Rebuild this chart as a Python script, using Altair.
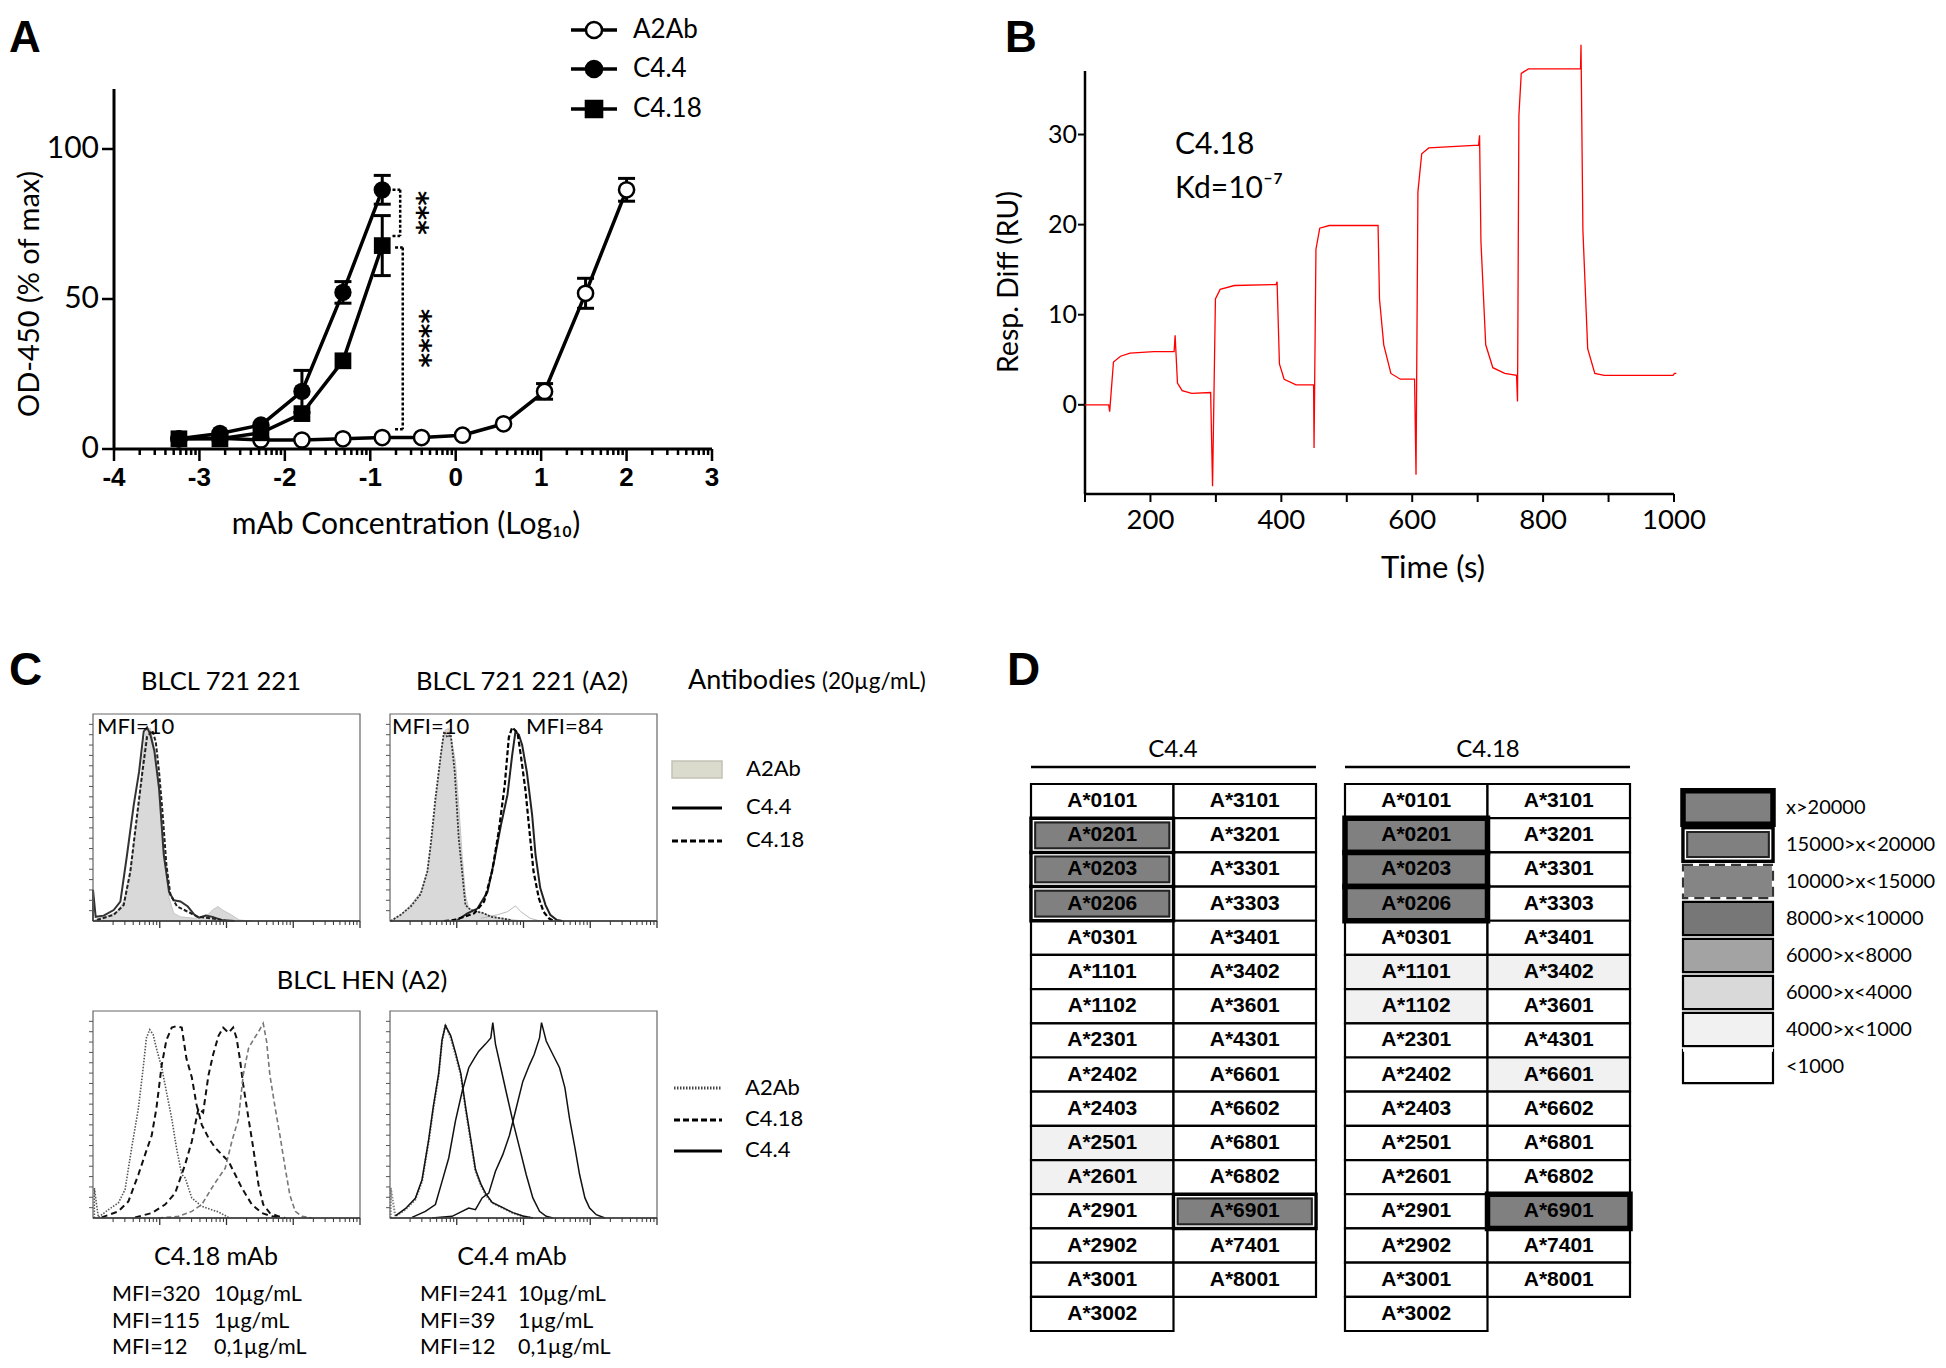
import altair as alt
import numpy as np
import pandas as pd

OX = OY = 8  # page margin

# ======================= DATA =======================
# ---- Panel A : ELISA titration ----
a_series = ["A2Ab", "C4.4", "C4.18"]
a2ab_logc = [-3.24, -2.76, -2.28, -1.80, -1.32, -0.86, -0.40, 0.08, 0.56, 1.04, 1.52, 2.00]
a2ab_od = [3.4, 3.6, 3.0, 3.0, 3.4, 3.8, 3.8, 4.6, 8.4, 19.2, 51.9, 86.4]
a2ab_sd = [0, 0, 0, 0, 0, 0, 0, 0, 0, 2.6, 5.0, 3.8]
c44_logc = [-3.24, -2.76, -2.28, -1.80, -1.32, -0.86]
c44_od = [3.4, 5.2, 8.0, 19.2, 52.2, 86.4]
c44_sd = [0, 0, 0, 7.0, 3.6, 4.8]
c418_logc = [-3.24, -2.76, -2.28, -1.80, -1.32, -0.86]
c418_od = [3.4, 3.4, 5.4, 11.8, 29.4, 67.8]
c418_sd = [0, 0, 0, 0, 0, 10.0]
sig_x = [-0.65, -0.62]
sig_top = [86.4, 67.2]
sig_bottom = [71.0, 6.6]
sig_stars = ["***", "****"]
a_xticks = [-4, -3, -2, -1, 0, 1, 2, 3]
a_yticks = [0, 50, 100]

# ---- Panel B : SPR sensorgram ----
spr_time = [100, 136.2, 137.7, 143.5, 154.3, 168.8, 205.1, 236.2, 237.7, 241.3, 248.5, 263.0, 292.0,
            294.9, 299.3, 306.5, 328.3, 392.0, 393.5, 397.1, 404.3, 422.5, 449.3, 450.0, 452.9, 458.7,
            473.2, 547.8, 550.0, 556.5, 567.4, 581.9, 603.6, 605.8, 608.7, 614.5, 625.3, 701.4, 702.9,
            705.0, 712.3, 723.2, 741.3, 759.4, 760.9, 763.0, 766.6, 777.5, 857.2, 857.9, 860.8, 868.1,
            879.0, 893.4, 998.5, 1000.7, 1003.6]
spr_resp = [0, 0, -0.76, 4.75, 5.39, 5.73, 5.90, 5.90, 7.72, 2.42, 1.57, 1.27, 1.36,
            -9.04, 11.75, 12.81, 13.24, 13.36, 13.66, 4.54, 2.84, 2.21, 2.21, -4.79, 17.27, 19.6,
            19.9, 19.9, 11.75, 6.66, 3.48, 2.84, 2.84, -7.76, 23.63, 27.87, 28.51, 28.81, 29.91,
            18.12, 6.66, 4.12, 3.48, 3.27, 0.38, 32.12, 36.78, 37.29, 37.29, 39.97, 19.39, 6.24,
            3.48, 3.27, 3.27, 3.48, 3.48]
b_xticks = [100, 200, 300, 400, 500, 600, 700, 800, 900, 1000]
b_xlabels = [200, 400, 600, 800, 1000]
b_yticks = [0, 10, 20, 30]

# ---- Panel C : flow cytometry histograms (x = log decade, y = % of max) ----
tl_a2ab_x = [0.00, 0.06, 0.26, 0.36, 0.46, 0.54, 0.61, 0.69, 0.75, 0.80, 0.86, 0.91, 0.96, 1.02, 1.09,
             1.14, 1.21, 1.31, 1.52, 1.72, 1.79, 1.87, 1.94, 2.07, 2.19, 2.37]
tl_a2ab_y = [0, 1, 3, 4.5, 9.4, 20.6, 36.8, 56, 80, 92.4, 93, 85, 72, 48, 24, 11, 3.7, 2, 1.3, 3, 5.3,
             7, 5.3, 3, 0.5, 0]
tl_c44_x = [0.00, 0.00, 0.04, 0.16, 0.31, 0.41, 0.51, 0.61, 0.69, 0.76, 0.81, 0.86, 0.92, 0.99, 1.06,
            1.14, 1.21, 1.31, 1.42, 1.52, 1.59, 1.69, 1.79, 1.92, 2.12]
tl_c44_y = [0, 15, 2, 2.6, 5.3, 9.4, 32, 56, 72, 91.6, 93.5, 90, 82, 64, 32, 14, 10, 9.4, 7, 3, 1.6,
            2.6, 2, 0.5, 0]
tl_c418_x = [0.06, 0.31, 0.46, 0.56, 0.66, 0.74, 0.81, 0.89, 0.94, 0.99, 1.04, 1.10, 1.16, 1.26, 1.42,
             1.57, 1.77, 1.97]
tl_c418_y = [0.5, 3, 7.7, 24, 51, 72, 89, 92, 86.6, 72, 53, 27, 12.6, 7, 4.5, 2, 1.3, 0.3]

tr_a2ab_x = [0.01, 0.16, 0.31, 0.46, 0.56, 0.63, 0.71, 0.78, 0.83, 0.88, 0.93, 0.98, 1.03, 1.08, 1.13,
             1.18, 1.31, 1.46, 1.66, 1.86, 2.00]
tr_a2ab_y = [0, 3, 7.7, 14, 24, 40, 64, 85, 92.4, 93, 86.6, 77, 56, 32, 12.6, 6, 4.5, 3, 1.3, 0.5, 0]
tr_iso_x = [1.36, 1.61, 1.76, 1.88, 1.96, 2.10, 2.25]
tr_iso_y = [1.3, 3, 4.5, 7.3, 4.5, 1.3, 0]
tr_dot_x = [0.01, 0.16, 0.31, 0.46, 0.56, 0.61, 0.68, 0.76, 0.81, 0.86, 0.91, 0.97, 1.03, 1.08, 1.13,
            1.21, 1.31, 1.41, 1.51, 1.66, 1.81]
tr_dot_y = [0, 3, 7, 13, 24, 37, 59, 80, 91.6, 88.7, 90, 72, 40, 24, 7.7, 5.3, 4.5, 3.7, 2, 1.3, 0.5]
tr_c44_x = [1.01, 1.16, 1.31, 1.46, 1.56, 1.66, 1.76, 1.83, 1.88, 1.93, 1.98, 2.05, 2.13, 2.18, 2.25,
            2.33, 2.40, 2.50, 2.58]
tr_c44_y = [0.5, 3.7, 6, 14, 29, 46, 61, 80, 91.6, 90, 85, 72, 51, 32, 16, 7.7, 3, 0.5, 0]
tr_c418_x = [0.81, 0.96, 1.11, 1.26, 1.41, 1.53, 1.63, 1.72, 1.78, 1.83, 1.91, 1.96, 2.03, 2.10, 2.15,
             2.23, 2.30, 2.38, 2.45]
tr_c418_y = [0, 0.5, 2, 3.7, 9.4, 24, 43.5, 66, 88.7, 93.5, 91, 80, 63, 40, 24, 11, 4.5, 1.3, 0]

bl_a2ab_x = [0.02, 0.02, 0.08, 0.23, 0.38, 0.48, 0.58, 0.68, 0.75, 0.80, 0.85, 0.90, 0.95, 1.03, 1.10,
             1.18, 1.25, 1.33, 1.38, 1.48, 1.63, 1.88, 2.03]
bl_a2ab_y = [0, 14.5, 0.3, 4, 7.3, 13.7, 34, 53, 72, 87, 91, 88.7, 82, 72.6, 61, 48, 34, 21, 19.4, 9.7,
             5.6, 2.9, 0.3]
bl_c01_x = [0.13, 0.38, 0.53, 0.68, 0.78, 0.88, 0.95, 1.03, 1.10, 1.18, 1.25, 1.33, 1.40, 1.48, 1.55,
            1.63, 1.73, 1.83, 1.93, 2.03, 2.13, 2.23, 2.38, 2.53, 2.68, 2.83]
bl_c01_y = [0.3, 3.2, 8, 21, 30.6, 40, 53, 74, 86, 92, 92.7, 92, 77, 68, 55, 45, 38.7, 34, 30.6, 27.4,
            21, 14.5, 6.5, 2.4, 0.8, 0]
bl_c1_x = [0.63, 0.88, 1.08, 1.23, 1.38, 1.48, 1.58, 1.65, 1.73, 1.80, 1.88, 1.95, 2.03, 2.10, 2.15,
           2.20, 2.25, 2.33, 2.40, 2.48, 2.55, 2.65, 2.78, 2.88]
bl_c1_y = [0.3, 2.4, 6.5, 12, 25.8, 37, 53, 51, 69, 79, 88, 92, 89.5, 92, 87, 77, 64.5, 48, 34, 16, 6.5,
           2.4, 0.8, 0]
bl_c10_x = [0.98, 1.28, 1.48, 1.63, 1.78, 1.88, 1.98, 2.08, 2.18, 2.25, 2.33, 2.40, 2.48, 2.55, 2.60,
            2.65, 2.73, 2.80, 2.88, 2.95, 3.03, 3.13, 3.28]
bl_c10_y = [0, 0.8, 3.2, 6.5, 14.5, 19.4, 24, 37, 48, 69, 82, 86, 90, 94, 85.5, 69, 53, 40, 24, 11, 3.2,
            0.8, 0]

br_a2ab_x = [0.01, 0.01, 0.08, 0.23, 0.38, 0.48, 0.58, 0.65, 0.73, 0.78, 0.83, 0.91, 0.98, 1.06, 1.13,
             1.21, 1.28, 1.36, 1.43, 1.53, 1.69, 1.84, 1.99, 2.14]
br_a2ab_y = [0, 14.5, 0.8, 4, 8.9, 17.7, 37, 53, 69, 85.5, 93.5, 87, 79, 69, 53, 37, 22.6, 16, 11.3, 7.3,
             4.8, 2.4, 0.8, 0]
br_c01_x = [0.08, 0.23, 0.38, 0.48, 0.58, 0.65, 0.73, 0.78, 0.83, 0.91, 0.98, 1.06, 1.13, 1.21, 1.28,
            1.36, 1.43, 1.53, 1.69, 1.84, 1.99, 2.14]
br_c01_y = [1, 4.5, 9.5, 18.5, 38, 54, 70, 86, 93, 88, 80, 70, 54, 38, 23.5, 16.5, 12, 7.5, 5, 2.6, 1, 0]
br_c1_x = [0.33, 0.53, 0.68, 0.78, 0.88, 0.98, 1.08, 1.18, 1.26, 1.33, 1.43, 1.51, 1.54, 1.58, 1.66,
           1.74, 1.84, 1.94, 2.04, 2.14, 2.24, 2.34, 2.44]
br_c1_y = [0.3, 3.2, 6.5, 17.7, 29, 46.8, 61, 72.6, 77, 80.6, 84, 87, 94.4, 84, 72.6, 61, 46.8, 34, 21,
           9.7, 3.2, 0.8, 0]
br_c10_x = [0.63, 0.93, 1.18, 1.28, 1.38, 1.48, 1.58, 1.69, 1.79, 1.89, 1.99, 2.09, 2.16, 2.24, 2.27,
            2.34, 2.44, 2.54, 2.62, 2.69, 2.77, 2.84, 2.92, 2.99, 3.09, 3.22]
br_c10_y = [0, 0.8, 4.8, 4, 9.7, 12, 22.6, 30.6, 40, 53, 66, 74, 79, 87, 94.4, 85.5, 79, 72.6, 63, 48,
            34, 21, 9.7, 4.8, 1.6, 0]

mfi_c418 = ["MFI=320", "MFI=115", "MFI=12"]
mfi_c44 = ["MFI=241", "MFI=39", "MFI=12"]
mfi_conc = ["10µg/mL", "1µg/mL", "0,1µg/mL"]

# ---- Panel D : HLA-A allele binding ----
hla_col1 = ["A*0101", "A*0201", "A*0203", "A*0206", "A*0301", "A*1101", "A*1102", "A*2301",
            "A*2402", "A*2403", "A*2501", "A*2601", "A*2901", "A*2902", "A*3001", "A*3002"]
hla_col2 = ["A*3101", "A*3201", "A*3301", "A*3303", "A*3401", "A*3402", "A*3601", "A*4301",
            "A*6601", "A*6602", "A*6801", "A*6802", "A*6901", "A*7401", "A*8001"]
mfi_levels = ["x>20000", "15000>x<20000", "10000>x<15000", "8000>x<10000",
              "6000>x<8000", "6000>x<4000", "4000>x<1000", "<1000"]
c44_binding = {"A*0201": "15000>x<20000", "A*0203": "15000>x<20000", "A*0206": "15000>x<20000",
               "A*6901": "15000>x<20000", "A*2501": "4000>x<1000", "A*2601": "4000>x<1000"}
c418_binding = {"A*0201": "x>20000", "A*0203": "x>20000", "A*0206": "x>20000", "A*6901": "x>20000",
                "A*1101": "4000>x<1000", "A*1102": "4000>x<1000", "A*3402": "4000>x<1000",
                "A*6601": "4000>x<1000"}

# ======================= STYLE / LAYOUT =======================
level_fill = ["#808080", "#808080", "#858585", "#777777", "#a3a3a3", "#d9d9d9", "#f1f1f1", "#ffffff"]
FONT = "Lato"
ARIAL = "Liberation Sans"
legA_rows_y = [30, 69, 109]       # page y of the three legend rows of panel A
legA_shapes = ["circle", "circle", "square"]
legA_fills = ["white", "black", "black"]


def sc(dom, p0, p1, **kw):
    return alt.Scale(domain=dom, range=[p0 - OX, p1 - OX], nice=False, zero=False, **kw)


def note(s, x, y, size, font=FONT, weight="normal", align="left", baseline="middle", angle=0):
    return alt.Chart(pd.DataFrame({"t": [s]})).mark_text(
        font=font, fontSize=size, fontWeight=weight, align=align, baseline=baseline,
        angle=angle, color="black").encode(x=alt.value(x - OX), y=alt.value(y - OY), text="t:N")


def mkdf(xv, yv):
    return pd.DataFrame({"x": xv, "y": yv, "i": list(range(len(xv)))})


layers = []

# ======================= PANEL A =======================
xa = sc([-4, 3], 114, 712)
ya = sc([0, 120], 449, 89)


def XA(f):
    return alt.X(f, scale=xa, axis=None)


def YA(f):
    return alt.Y(f, scale=ya, axis=None)


frames = []
for name, xv, yv, sv in [("A2Ab", a2ab_logc, a2ab_od, a2ab_sd), ("C4.4", c44_logc, c44_od, c44_sd),
                         ("C4.18", c418_logc, c418_od, c418_sd)]:
    frames.append(pd.DataFrame({"series": name, "logc": xv, "od": yv, "sd": sv, "i": list(range(len(xv)))}))
dfa = pd.concat(frames, ignore_index=True)
dfe = dfa[dfa.sd > 0].copy()
dfe["lo"] = dfe.od - dfe.sd
dfe["hi"] = dfe.od + dfe.sd

a_axes = pd.DataFrame({"x0": [-4], "x1": [3], "y0": [0], "y1": [120]})
a_major = pd.DataFrame({"v": a_xticks, "lab": [str(v) for v in a_xticks], "z": 0})
a_minor = pd.DataFrame({"v": [k + np.log10(m) for k in range(-4, 3) for m in range(2, 10)], "z": 0})
a_ymaj = pd.DataFrame({"v": a_yticks, "lab": [str(v) for v in a_yticks], "z": -4})
dsig = pd.DataFrame({"x": sig_x, "top": sig_top, "bot": sig_bottom, "stars": sig_stars})
dsig["xs"] = dsig.x - 0.09
dsig["xt"] = dsig.x + 0.19
dsig["ym"] = (dsig.top + dsig.bot) / 2

panelA = alt.layer(
    alt.Chart(a_axes).mark_rule(color="black", strokeWidth=3).encode(x=XA("x0:Q"), x2="x1:Q", y=YA("y0:Q")),
    alt.Chart(a_axes).mark_rule(color="black", strokeWidth=3).encode(x=XA("x0:Q"), y=YA("y0:Q"), y2="y1:Q"),
    alt.Chart(a_major).mark_tick(orient="vertical", size=12, thickness=2.5, yOffset=6, color="black",
                                 opacity=1).encode(x=XA("v:Q"), y=YA("z:Q")),
    alt.Chart(a_minor).mark_tick(orient="vertical", size=6, thickness=2.5, yOffset=3, color="black",
                                 opacity=1).encode(x=XA("v:Q"), y=YA("z:Q")),
    alt.Chart(a_ymaj).mark_tick(orient="horizontal", size=12, thickness=2.5, xOffset=-6, color="black",
                                opacity=1).encode(x=XA("z:Q"), y=YA("v:Q")),
    alt.Chart(a_major).mark_text(font=ARIAL, fontWeight="bold", fontSize=26, baseline="middle").encode(
        x=XA("v:Q"), y=alt.value(478 - OY), text="lab:N"),
    alt.Chart(a_ymaj).mark_text(font=FONT, fontSize=30, align="right", baseline="middle").encode(
        x=alt.value(99 - OX), y=YA("v:Q"), text="lab:N"),
    alt.Chart(dfa).mark_line(color="black", strokeWidth=3.5).encode(
        x=XA("logc:Q"), y=YA("od:Q"), detail="series:N", order="i:Q"),
    alt.Chart(dfe).mark_rule(color="black", strokeWidth=3).encode(x=XA("logc:Q"), y=YA("lo:Q"), y2="hi:Q"),
    alt.Chart(dfe).mark_tick(orient="horizontal", size=17, thickness=3, color="black", opacity=1).encode(
        x=XA("logc:Q"), y=YA("hi:Q")),
    alt.Chart(dfe).mark_tick(orient="horizontal", size=17, thickness=3, color="black", opacity=1).encode(
        x=XA("logc:Q"), y=YA("lo:Q")),
    alt.Chart(dfa[dfa.series == "A2Ab"]).mark_point(shape="circle", filled=True, fill="white", stroke="black",
                                                     strokeWidth=2.5, size=230, opacity=1).encode(
        x=XA("logc:Q"), y=YA("od:Q")),
    alt.Chart(dfa[dfa.series == "C4.4"]).mark_point(shape="circle", filled=True, color="black", size=300,
                                                     opacity=1).encode(x=XA("logc:Q"), y=YA("od:Q")),
    alt.Chart(dfa[dfa.series == "C4.18"]).mark_point(shape="square", filled=True, color="black", size=280,
                                                      opacity=1).encode(x=XA("logc:Q"), y=YA("od:Q")),
    alt.Chart(dsig).mark_rule(color="black", strokeWidth=2.5, strokeDash=[3, 2]).encode(
        x=XA("x:Q"), y=YA("top:Q"), y2="bot:Q"),
    alt.Chart(dsig).mark_rule(color="black", strokeWidth=2.5, strokeDash=[3, 2]).encode(
        x=XA("xs:Q"), x2="x:Q", y=YA("top:Q")),
    alt.Chart(dsig).mark_rule(color="black", strokeWidth=2.5, strokeDash=[3, 2]).encode(
        x=XA("xs:Q"), x2="x:Q", y=YA("bot:Q")),
    alt.Chart(dsig).mark_text(font="DejaVu Sans", fontWeight="bold", fontSize=28, angle=90,
                              baseline="middle").encode(x=XA("xt:Q"), y=YA("ym:Q"), text="stars:N"),
)
layers.append(panelA)

# legend of panel A (one entry per series)
for name, ry, shp, fil in zip(a_series, legA_rows_y, legA_shapes, legA_fills):
    d = pd.DataFrame({"series": [name]})
    layers += [
        alt.Chart(d).mark_rule(color="black", strokeWidth=3.5).encode(
            x=alt.value(571 - OX), x2=alt.value(617 - OX), y=alt.value(ry - OY)),
        alt.Chart(d).mark_point(shape=shp, filled=True, fill=fil, stroke="black", strokeWidth=2.5,
                                size=260, opacity=1).encode(x=alt.value(594 - OX), y=alt.value(ry - OY)),
        alt.Chart(d).mark_text(font=FONT, fontSize=26, align="left", baseline="middle").encode(
            x=alt.value(633 - OX), y=alt.value(ry - OY), text="series:N"),
    ]
layers += [
    note("A", 9, 52, 44, font=ARIAL, weight="bold", baseline="alphabetic"),
    note("OD-450 (% of max)", 30, 294, 29, align="center", angle=270),
    note("mAb Concentration (Log₁₀)", 406, 525, 30, align="center"),
]

# ======================= PANEL B =======================
xb = sc([100, 1000], 1085, 1674)
yb = sc([-9.9, 37.05], 494, 71)


def XB(f):
    return alt.X(f, scale=xb, axis=None)


def YB(f):
    return alt.Y(f, scale=yb, axis=None)


dspr = pd.DataFrame({"t": spr_time, "r": spr_resp, "i": list(range(len(spr_time)))})
b_axes = pd.DataFrame({"x0": [100], "x1": [1000], "y0": [-9.9], "y1": [37.05]})
b_xt = pd.DataFrame({"v": b_xticks, "z": -9.9})
b_xl = pd.DataFrame({"v": b_xlabels, "lab": [str(v) for v in b_xlabels]})
b_yt = pd.DataFrame({"v": b_yticks, "lab": [str(v) for v in b_yticks], "z": 100})
panelB = alt.layer(
    alt.Chart(b_axes).mark_rule(color="black", strokeWidth=2.5).encode(x=XB("x0:Q"), x2="x1:Q", y=YB("y0:Q")),
    alt.Chart(b_axes).mark_rule(color="black", strokeWidth=2.5).encode(x=XB("x0:Q"), y=YB("y0:Q"), y2="y1:Q"),
    alt.Chart(b_xt).mark_tick(orient="vertical", size=8, thickness=2, yOffset=4, color="black",
                              opacity=1).encode(x=XB("v:Q"), y=YB("z:Q")),
    alt.Chart(b_yt).mark_tick(orient="horizontal", size=7, thickness=2, xOffset=-3.5, color="black",
                              opacity=1).encode(x=XB("z:Q"), y=YB("v:Q")),
    alt.Chart(b_xl).mark_text(font=FONT, fontSize=27.5, baseline="middle").encode(
        x=XB("v:Q"), y=alt.value(521 - OY), text="lab:N"),
    alt.Chart(b_yt).mark_text(font=FONT, fontSize=25, align="right", baseline="middle").encode(
        x=alt.value(1077 - OX), y=YB("v:Q"), text="lab:N"),
    alt.Chart(dspr).mark_line(color="#ff0000", strokeWidth=1.3).encode(x=XB("t:Q"), y=YB("r:Q"), order="i:Q"),
)
layers.append(panelB)
layers += [
    note("B", 1005, 52, 44, font=ARIAL, weight="bold", baseline="alphabetic"),
    note("C4.18", 1175, 145, 30),
    note("Kd=10⁻⁷", 1175, 189, 30),
    note("Resp. Diff (RU)", 1009, 282, 28.5, align="center", angle=270),
    note("Time (s)", 1433, 569, 31, align="center"),
]


# ======================= PANEL C =======================
def facs_box(left, right, top, bottom, curves):
    xs = sc([0, 4], left, right)
    ys = sc([0, 100], bottom, top)

    def X(f):
        return alt.X(f, scale=xs, axis=None)

    def Y(f):
        return alt.Y(f, scale=ys, axis=None, stack=None)

    sub = []
    for kind, xv, yv, style in curves:
        d = mkdf(xv, yv)
        if kind == "area":
            sub.append(alt.Chart(d).mark_area(**style).encode(x=X("x:Q"), y=Y("y:Q")))
        else:
            sub.append(alt.Chart(d).mark_line(**style).encode(x=X("x:Q"), y=Y("y:Q"), order="i:Q"))
    frame = pd.DataFrame({"x0": [0], "x1": [4], "y0": [0], "y1": [100]})
    major = pd.DataFrame({"v": [1, 2, 3, 4], "z": 0})
    minor = pd.DataFrame({"v": [k + np.log10(m) for k in range(4) for m in range(2, 10)], "z": 0})
    left_t = pd.DataFrame({"v": list(range(5, 100, 5)), "z": 0})
    sub += [
        alt.Chart(frame).mark_rect(filled=False, stroke="#666666", strokeWidth=1.2).encode(
            x=X("x0:Q"), x2="x1:Q", y=Y("y0:Q"), y2="y1:Q"),
        alt.Chart(frame).mark_rule(color="#333333", strokeWidth=1.6).encode(x=X("x0:Q"), x2="x1:Q", y=Y("y0:Q")),
        alt.Chart(minor).mark_tick(orient="vertical", size=4, thickness=1, yOffset=2, color="#333333",
                                   opacity=1).encode(x=X("v:Q"), y=Y("z:Q")),
        alt.Chart(major).mark_tick(orient="vertical", size=7, thickness=1.3, yOffset=3.5, color="#333333",
                                   opacity=1).encode(x=X("v:Q"), y=Y("z:Q")),
        alt.Chart(left_t).mark_tick(orient="horizontal", size=4, thickness=1, xOffset=-2, color="#555555",
                                    opacity=1).encode(x=X("z:Q"), y=Y("v:Q")),
    ]
    return alt.layer(*sub)


gray_area = {"fill": "#d9d9d9", "stroke": "#c6c6c6", "strokeWidth": 1}
layers.append(facs_box(93, 360, 714, 921, [
    ("area", tl_a2ab_x, tl_a2ab_y, gray_area),
    ("line", tl_c44_x, tl_c44_y, {"color": "#333333", "strokeWidth": 2}),
    ("line", tl_c418_x, tl_c418_y, {"color": "#222222", "strokeWidth": 2, "strokeDash": [4, 2]}),
]))
layers.append(facs_box(390, 657, 714, 921, [
    ("area", tr_a2ab_x, tr_a2ab_y, gray_area),
    ("line", tr_iso_x, tr_iso_y, {"color": "#bbbbbb", "strokeWidth": 1}),
    ("line", tr_dot_x, tr_dot_y, {"color": "#333333", "strokeWidth": 1.8, "strokeDash": [2, 1.5]}),
    ("line", tr_c44_x, tr_c44_y, {"color": "#222222", "strokeWidth": 2}),
    ("line", tr_c418_x, tr_c418_y, {"color": "#000000", "strokeWidth": 2.2, "strokeDash": [5, 2.5]}),
]))
layers.append(facs_box(93, 360, 1011, 1218, [
    ("line", bl_a2ab_x, bl_a2ab_y, {"color": "#555555", "strokeWidth": 1.6, "strokeDash": [1.5, 1.5]}),
    ("line", bl_c01_x, bl_c01_y, {"color": "#111111", "strokeWidth": 2, "strokeDash": [6, 4]}),
    ("line", bl_c1_x, bl_c1_y, {"color": "#111111", "strokeWidth": 2, "strokeDash": [6, 4]}),
    ("line", bl_c10_x, bl_c10_y, {"color": "#777777", "strokeWidth": 1.6, "strokeDash": [5, 3]}),
]))
layers.append(facs_box(390, 657, 1011, 1218, [
    ("line", br_a2ab_x, br_a2ab_y, {"color": "#888888", "strokeWidth": 2.2, "strokeDash": [1.5, 1.5]}),
    ("line", br_c01_x, br_c01_y, {"color": "#111111", "strokeWidth": 1.5}),
    ("line", br_c1_x, br_c1_y, {"color": "#111111", "strokeWidth": 1.5}),
    ("line", br_c10_x, br_c10_y, {"color": "#111111", "strokeWidth": 1.5}),
]))

# Panel C legends
leg_box = pd.DataFrame({"a": [1]})
layers += [
    alt.Chart(leg_box).mark_rect(fill="#dadacd", stroke="#c2c2b5", strokeWidth=1.5).encode(
        x=alt.value(672 - OX), x2=alt.value(722 - OX), y=alt.value(761 - OY), y2=alt.value(778 - OY)),
    alt.Chart(leg_box).mark_rule(color="black", strokeWidth=3).encode(
        x=alt.value(672 - OX), x2=alt.value(722 - OX), y=alt.value(808 - OY)),
    alt.Chart(leg_box).mark_rule(color="black", strokeWidth=3, strokeDash=[6, 3]).encode(
        x=alt.value(672 - OX), x2=alt.value(722 - OX), y=alt.value(841 - OY)),
    note("A2Ab", 746, 769, 22), note("C4.4", 746, 807, 22), note("C4.18", 746, 840, 22),
    alt.Chart(leg_box).mark_rule(color="#444444", strokeWidth=3, strokeDash=[1.5, 1.5]).encode(
        x=alt.value(674 - OX), x2=alt.value(722 - OX), y=alt.value(1088 - OY)),
    alt.Chart(leg_box).mark_rule(color="black", strokeWidth=3, strokeDash=[6, 3]).encode(
        x=alt.value(674 - OX), x2=alt.value(722 - OX), y=alt.value(1120 - OY)),
    alt.Chart(leg_box).mark_rule(color="black", strokeWidth=3).encode(
        x=alt.value(674 - OX), x2=alt.value(722 - OX), y=alt.value(1151 - OY)),
    note("A2Ab", 745, 1088, 22), note("C4.18", 745, 1119, 22), note("C4.4", 745, 1150, 22),
]
layers += [
    note("C", 9, 685, 46, font=ARIAL, weight="bold", baseline="alphabetic"),
    note("BLCL 721 221", 221, 682, 25.5, align="center"),
    note("BLCL 721 221 (A2)", 522, 682, 25.5, align="center"),
    note("Antibodies", 688, 689, 27, baseline="alphabetic"),
    note("(20µg/mL)", 822, 689, 22.5, baseline="alphabetic"),
    note("BLCL HEN (A2)", 362, 981, 25.5, align="center"),
    note("MFI=10", 97, 727, 22),
    note("MFI=10", 392, 727, 22),
    note("MFI=84", 526, 727, 22),
    note("C4.18 mAb", 216, 1257, 25, align="center"),
    note("C4.4 mAb", 512, 1257, 25, align="center"),
]
ym = alt.Scale(type="point", domain=[0, 1, 2], range=[1295 - OY, 1348 - OY], padding=0)
dm = pd.DataFrame({"k": [0, 1, 2], "m418": mfi_c418, "m44": mfi_c44, "conc": mfi_conc})
layers.append(alt.layer(
    alt.Chart(dm).mark_text(font=FONT, fontSize=21.5, align="left", baseline="middle").encode(
        x=alt.value(112 - OX), y=alt.Y("k:O", scale=ym, axis=None), text="m418:N"),
    alt.Chart(dm).mark_text(font=FONT, fontSize=21.5, align="left", baseline="middle").encode(
        x=alt.value(214 - OX), y=alt.Y("k:O", scale=ym, axis=None), text="conc:N"),
    alt.Chart(dm).mark_text(font=FONT, fontSize=21.5, align="left", baseline="middle").encode(
        x=alt.value(420 - OX), y=alt.Y("k:O", scale=ym, axis=None), text="m44:N"),
    alt.Chart(dm).mark_text(font=FONT, fontSize=21.5, align="left", baseline="middle").encode(
        x=alt.value(518 - OX), y=alt.Y("k:O", scale=ym, axis=None), text="conc:N"),
))


# ======================= PANEL D =======================
def rect_layer(d, xs, ys, kx, ky, inset=0.0, **mk):
    d = d.copy()
    d["a0"] = d.x0 + inset * kx
    d["a1"] = d.x1 - inset * kx
    d["b0"] = d.y0 + inset * ky
    d["b1"] = d.y1 - inset * ky
    return alt.Chart(d).mark_rect(**mk).encode(
        x=alt.X("a0:Q", scale=xs, axis=None), x2="a1:Q", y=alt.Y("b0:Q", scale=ys, axis=None), y2="b1:Q")


def styled_cells(d, xs, ys, kx, ky):
    out = []
    fmap = dict(zip(mfi_levels, level_fill))
    d = d.copy()
    d["fillc"] = d.level.map(fmap)
    plain = d[~d.level.isin(mfi_levels[:3])]
    if len(plain):
        out.append(rect_layer(plain, xs, ys, kx, ky, stroke="black", strokeWidth=2.2).encode(
            fill=alt.Fill("fillc:N", scale=None)))
    dbl = d[d.level == mfi_levels[1]]
    if len(dbl):
        out.append(rect_layer(dbl, xs, ys, kx, ky, fill="#808080", stroke="black", strokeWidth=3.5))
        out.append(rect_layer(dbl, xs, ys, kx, ky, inset=2.5, filled=False, stroke="white", strokeWidth=1.5))
        out.append(rect_layer(dbl, xs, ys, kx, ky, inset=4.2, filled=False, stroke="#222222", strokeWidth=2))
    dash = d[d.level == mfi_levels[2]]
    if len(dash):
        out.append(rect_layer(dash, xs, ys, kx, ky, fill="#858585", stroke="white", strokeWidth=2.2))
        out.append(rect_layer(dash, xs, ys, kx, ky, filled=False, stroke="#333333", strokeWidth=2.2,
                              strokeDash=[10, 6]))
    thick = d[d.level == mfi_levels[0]]
    if len(thick):
        out.append(rect_layer(thick, xs, ys, kx, ky, fill="#808080", stroke="black", strokeWidth=5.5))
    return out


def hla_table(binding, left, right, top, bottom):
    recs = []
    for c, col in enumerate([hla_col1, hla_col2]):
        for r, a in enumerate(col):
            recs.append({"allele": a, "level": binding.get(a, "<1000"), "x0": c, "x1": c + 1,
                         "y0": r, "y1": r + 1, "xc": c + 0.5, "yc": r + 0.5})
    df = pd.DataFrame(recs)
    xs = sc([0, 2], left, right)
    ys = sc([0, 16], top, bottom)
    kx = 2.0 / (right - left)
    ky = 16.0 / (bottom - top)
    sub = styled_cells(df, xs, ys, kx, ky)
    sub.append(alt.Chart(df).mark_text(font=ARIAL, fontWeight="bold", fontSize=21, baseline="middle").encode(
        x=alt.X("xc:Q", scale=xs, axis=None), y=alt.Y("yc:Q", scale=ys, axis=None), text="allele:N"))
    return alt.layer(*sub)


layers.append(hla_table(c44_binding, 1031, 1316, 784, 1331))
layers.append(hla_table(c418_binding, 1345, 1630, 784, 1331))

one = pd.DataFrame({"a": [1]})
layers += [
    note("D", 1007, 685, 46, font=ARIAL, weight="bold", baseline="alphabetic"),
    note("C4.4", 1173, 750, 24, align="center"),
    note("C4.18", 1488, 750, 24, align="center"),
    alt.Chart(one).mark_rule(color="black", strokeWidth=2.5).encode(
        x=alt.value(1031 - OX), x2=alt.value(1316 - OX), y=alt.value(767 - OY)),
    alt.Chart(one).mark_rule(color="black", strokeWidth=2.5).encode(
        x=alt.value(1345 - OX), x2=alt.value(1630 - OX), y=alt.value(767 - OY)),
]

# legend for panel D
dl = pd.DataFrame({"level": mfi_levels, "k": list(range(8))})
dl["x0"] = 0.0
dl["x1"] = 1.0
dl["y0"] = dl.k + 0.05
dl["y1"] = dl.k + 0.95
dl["yc"] = dl.k + 0.5
lxs = sc([0, 1], 1683, 1773)
lys = sc([0, 8], 789, 1085)
lkx = 1.0 / 90
lky = 8.0 / 296
leg_layers = styled_cells(dl, lxs, lys, lkx, lky)
last = dl[dl.level == "<1000"]
leg_layers.append(alt.Chart(last).mark_rule(color="white", strokeWidth=4).encode(
    x=alt.X("x0:Q", scale=lxs, axis=None), x2="x1:Q", y=alt.Y("y0:Q", scale=lys, axis=None)))
leg_layers.append(alt.Chart(dl).mark_text(font=FONT, fontSize=20, align="left", baseline="middle").encode(
    x=alt.value(1786 - OX), y=alt.Y("yc:Q", scale=lys, axis=None), text="level:N"))
layers.append(alt.layer(*leg_layers))

# ======================= ASSEMBLE =======================
chart = alt.layer(*layers).resolve_scale(
    x="independent", y="independent", fill="independent", shape="independent", color="independent"
).properties(
    width=1930, height=1352, padding=0, background="white",
    autosize=alt.AutoSizeParams(type="none"),
).configure_view(stroke=None)

chart.save("out.html", embed_options={"renderer": "svg", "actions": False})
